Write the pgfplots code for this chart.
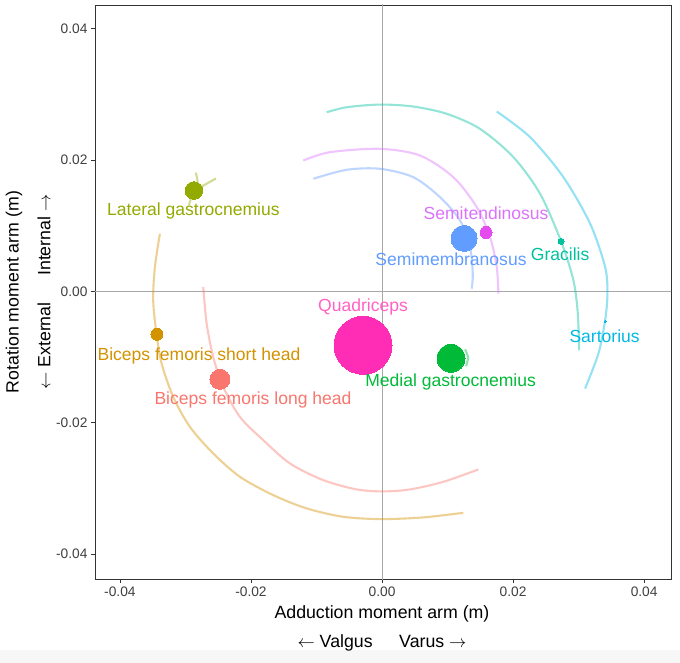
\documentclass[border=0pt]{standalone}
\usepackage{fontspec}
\setmainfont{Liberation Sans}
\usepackage{pgfplots}
\pgfplotsset{compat=1.18}
\definecolor{bfl}{HTML}{F8766D}
\definecolor{bfs}{HTML}{D39200}
\definecolor{lg}{HTML}{93AA00}
\definecolor{mg}{HTML}{00BA38}
\definecolor{gr}{HTML}{00C19F}
\definecolor{sa}{HTML}{00B9E3}
\definecolor{sm}{HTML}{619CFF}
\definecolor{st}{HTML}{DB72FB}
\definecolor{qu}{HTML}{FF61C3}
\definecolor{quDot}{HTML}{FF2DB6}
\definecolor{stDot}{HTML}{E44CF0}
\definecolor{zline}{HTML}{A8A8A8}
\definecolor{frame}{HTML}{333333}
\newcommand\lab{\fontsize{17.6}{20}\selectfont}
\newcommand\ttl{\fontsize{17.8}{20}\selectfont}
\tikzset{
  trail/.style={line width=2.1bp, draw opacity=0.42, smooth, no markers},
  dot/.style={only marks, mark=*, mark size=#1, line width=0pt},
}
\begin{document}
\begin{tikzpicture}
\path[use as bounding box] (-95bp,-84bp) rectangle (585bp,579bp);
\fill[black!3] (-95bp,-84bp) rectangle (585bp,-71bp);
\begin{axis}[
  scale only axis, width=576bp, height=574bp,
  xmin=-0.0438, xmax=0.0441, ymin=-0.0438, ymax=0.0436,
  scaled ticks=false,
  xtick={-0.04,-0.02,0,0.02,0.04},
  xticklabels={-0.04,-0.02,0.00,0.02,0.04},
  ytick={-0.04,-0.02,0,0.02,0.04},
  yticklabels={-0.04,-0.02,0.00,0.02,0.04},
  xtick pos=lower, ytick pos=left,
  tick align=outside, major tick length=4bp,
  tick style={draw=frame, line width=0.8bp},
  axis line style={draw=frame, line width=0.8bp},
  ticklabel style={font=\fontsize{13.8}{16}\selectfont, text=black!75},
  clip=true,
]
% zero reference lines
\addplot[zline, line width=0.8bp, no markers] coordinates {(0,-0.05) (0,0.05)};
\addplot[zline, line width=0.8bp, no markers] coordinates {(-0.05,0) (0.05,0)};

% trajectories
% Gracilis
\addplot[trail, gr] coordinates {(-0.00844,0.02727) (-0.00539,0.02803) (-0.00031,0.02844) (0.00478,0.02814) (0.00988,0.02703) (0.01496,0.02474) (0.02005,0.02043) (0.02412,0.01486) (0.02733,0.00760) (0.02921,0.00167) (0.02988,-0.00339) (0.03008,-0.00897)};
% Sartorius
\addplot[trail, sa] coordinates {(0.01751,0.02738) (0.02260,0.02347) (0.02768,0.01738) (0.03176,0.01030) (0.03405,0.00370) (0.03440,-0.00035) (0.03405,-0.00441) (0.03302,-0.00948) (0.03099,-0.01480)};
% Semitendinosus
\addplot[trail, st] coordinates {(-0.01202,0.01992) (-0.00794,0.02119) (-0.00031,0.02170) (0.00580,0.02068) (0.01089,0.01738) (0.01446,0.01282) (0.01649,0.00826) (0.01751,0.00370) (0.01776,-0.00035)};
% Semimembranosus
\addplot[trail, sm] coordinates {(-0.01049,0.01714) (-0.00539,0.01851) (-0.00031,0.01866) (0.00478,0.01738) (0.00885,0.01434) (0.01191,0.01080) (0.01343,0.00674) (0.01385,0.00269) (0.01369,0.00041)};
% Biceps femoris long head
\addplot[trail, bfl] coordinates {(-0.02728,0.00065) (-0.02676,-0.00491) (-0.02576,-0.00999) (-0.02423,-0.01456) (-0.02168,-0.01912) (-0.01812,-0.02266) (-0.01405,-0.02621) (-0.00896,-0.02875) (-0.00386,-0.03016) (0.00020,-0.03046) (0.00427,-0.03016) (0.00936,-0.02900) (0.01470,-0.02712)};
% Biceps femoris short head
\addplot[trail, bfs] coordinates {(-0.03389,0.00878) (-0.03466,0.00370) (-0.03492,-0.00137) (-0.03440,-0.00659) (-0.03363,-0.01100) (-0.03186,-0.01608) (-0.02931,-0.02064) (-0.02576,-0.02468) (-0.02168,-0.02824) (-0.01660,-0.03103) (-0.01150,-0.03305) (-0.00591,-0.03433) (-0.00005,-0.03468) (0.00631,-0.03442) (0.01241,-0.03372)};
% Lateral gastrocnemius
\addplot[trail, lg] coordinates {(-0.02534,0.01719) (-0.02778,0.01582) (-0.02870,0.01536) (-0.02947,0.01308)};
\addplot[trail, lg] coordinates {(-0.02840,0.01810) (-0.02810,0.01658)};
% Medial gastrocnemius
\addplot[trail, mg] coordinates {(0.01267,-0.00882) (0.01313,-0.01008) (0.01282,-0.01141)};

% points
\addplot[dot=29bp, color=quDot] coordinates {(-0.00290,-0.00821)};
\addplot[dot=14bp, color=mg] coordinates {(0.01053,-0.01019)};
\addplot[dot=10bp, color=bfl] coordinates {(-0.02473,-0.01338)};
\addplot[dot=6bp, color=bfs] coordinates {(-0.03435,-0.00654)};
\addplot[dot=8.8bp, color=lg] coordinates {(-0.02870,0.01536)};
\addplot[dot=13bp, color=sm] coordinates {(0.01252,0.00806)};
\addplot[dot=6bp, color=stDot] coordinates {(0.01588,0.00897)};
\addplot[dot=3bp, color=gr] coordinates {(0.02733,0.00760)};
\addplot[dot=1.1bp, color=sa] coordinates {(0.03405,-0.00456)};

% labels
\begin{scope}[every node/.style={inner sep=0pt, font=\lab}]
\node[text=lg] at (axis cs:-0.02878,0.01217) {Lateral gastrocnemius};
\node[text=bfs] at (axis cs:-0.02794,-0.00984) {Biceps femoris short head};
\node[text=bfl] at (axis cs:-0.01969,-0.01658) {Biceps femoris long head};
\node[text=qu] at (axis cs:-0.00290,-0.00239) {Quadriceps};
\node[text=mg] at (axis cs:0.01046,-0.01379) {Medial gastrocnemius};
\node[text=st] at (axis cs:0.01588,0.01182) {Semitendinosus};
\node[text=sm] at (axis cs:0.01053,0.00487) {Semimembranosus};
\node[text=gr] at (axis cs:0.02718,0.00563) {Gracilis};
\node[text=sa] at (axis cs:0.03397,-0.00680) {Sartorius};
\end{scope}
\end{axis}
% axis titles
\node[font=\ttl, inner sep=0pt] at (287bp,-35bp) {Adduction moment arm (m)};
\node[font=\ttl, inner sep=0pt] at (287bp,-64bp) {$\leftarrow$ Valgus\hspace{1.5em}Varus $\rightarrow$};
\node[font=\ttl, inner sep=0pt, rotate=90] at (-81bp,287bp) {Rotation moment arm (m)};
\node[font=\ttl, inner sep=0pt, rotate=90] at (-51bp,287bp) {$\leftarrow$ External\hspace{1.5em}Internal $\rightarrow$};
\end{tikzpicture}
\end{document}
